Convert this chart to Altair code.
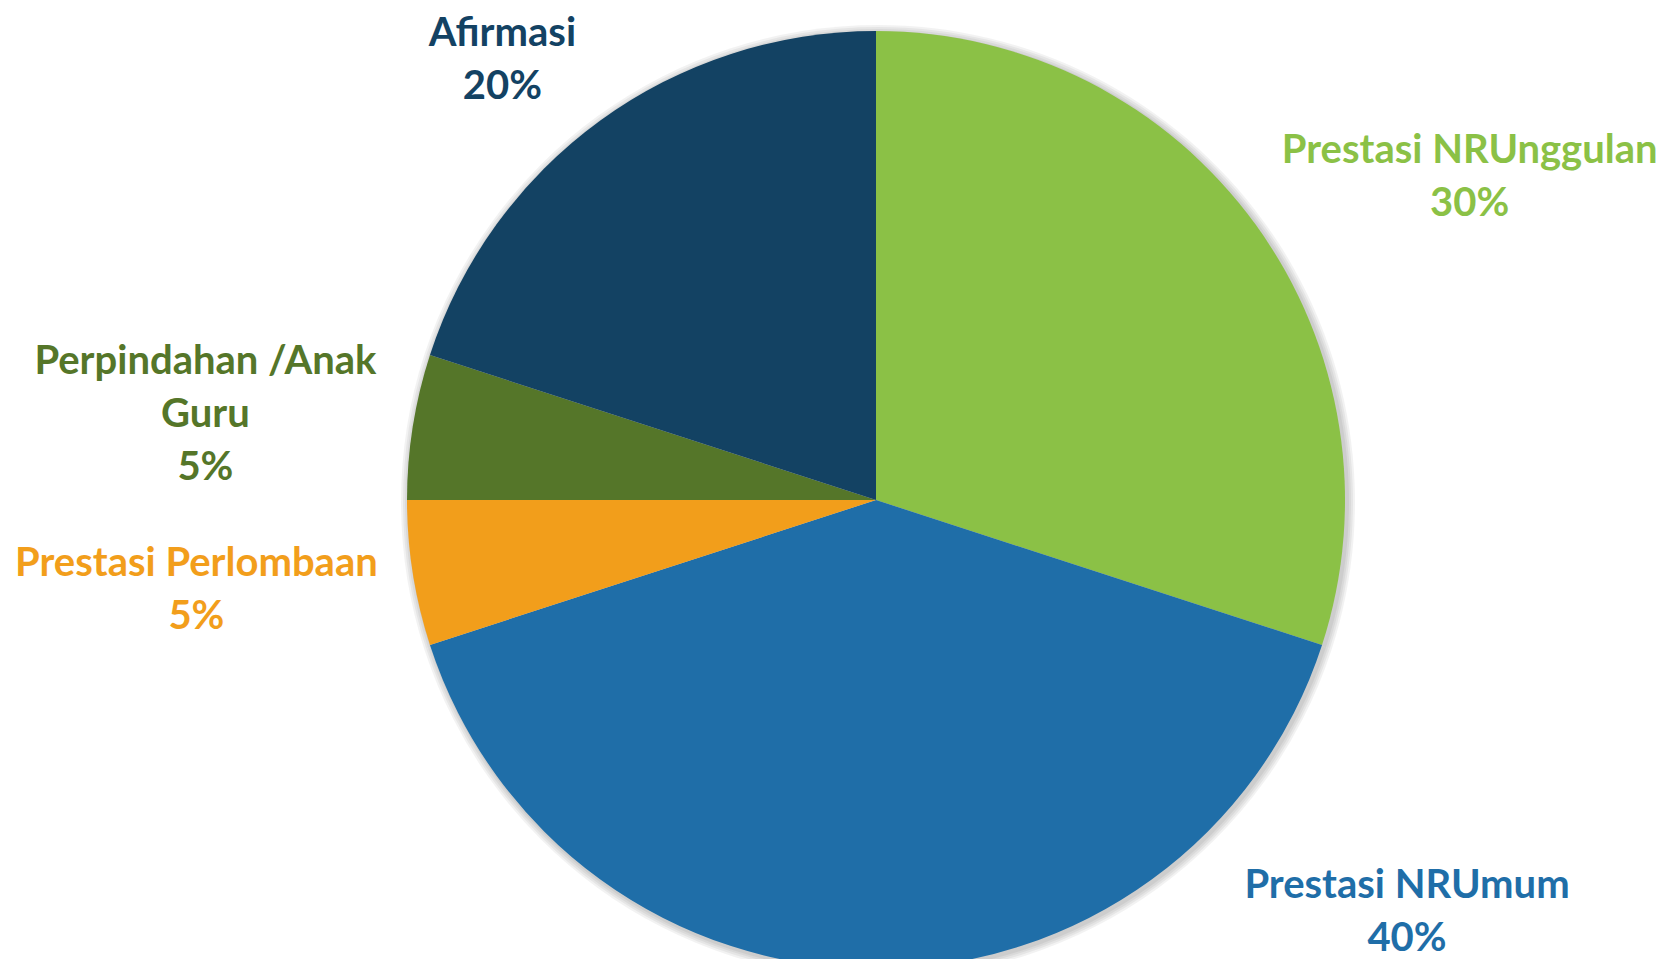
import math
import altair as alt
import pandas as pd

categories = ["Prestasi NRUnggulan", "Prestasi NRUmum", "Prestasi Perlombaan",
              "Perpindahan /Anak Guru", "Afirmasi"]
values = [30, 40, 5, 5, 20]
label_texts = ["Prestasi NRUnggulan\n30%", "Prestasi NRUmum\n40%",
               "Prestasi Perlombaan\n5%", "Perpindahan /Anak\nGuru\n5%",
               "Afirmasi\n20%"]
colors = ["#8BC146", "#1F6EA8", "#F29E1B", "#557629", "#134263"]

df = pd.DataFrame({
    "category": categories,
    "value": values,
    "label": label_texts,
    "order": list(range(len(categories))),
})

CX, CY, R = 868, 492, 469
TWO_PI = 2 * math.pi
theta_scale = alt.Scale(domain=[0, 100], range=[0, TWO_PI])
color_scale = alt.Scale(domain=categories, range=colors)

base = alt.Chart(df)

shadows = [
    base.mark_arc(radius=R + k, color="#000000", opacity=0.05)
    .encode(
        theta=alt.Theta("value:Q", stack=True, scale=theta_scale),
        order=alt.Order("order:Q"),
        x=alt.value(CX + 2),
        y=alt.value(CY + 2),
    )
    for k in (2, 4, 6, 8)
]

pie = base.mark_arc(radius=R).encode(
    theta=alt.Theta("value:Q", stack=True, scale=theta_scale),
    color=alt.Color("category:N", scale=color_scale, legend=None),
    order=alt.Order("order:Q"),
    x=alt.value(CX),
    y=alt.value(CY),
)

# nudges of each label from its slice's mid-angle anchor (layout only)
nudges = {
    "Prestasi NRUnggulan": (173, -43),
    "Prestasi NRUmum": (531, -134),
    "Prestasi Perlombaan": (-166, -17),
    "Perpindahan /Anak Guru": (-157, -57),
    "Afirmasi": (-68, -45),
}

label_layers = []
for cat, col in zip(categories, colors):
    ddx, ddy = nudges[cat]
    lyr = (
        base.transform_window(cum="sum(value)", sort=[alt.SortField("order")])
        .transform_calculate(mid="datum.cum - datum.value / 2",
                             lines="split(datum.label, '\\n')")
        .transform_filter(alt.datum.category == cat)
        .mark_text(radius=520, dx=ddx, dy=ddy, font="Lato", fontWeight="bold",
                   fontSize=40, lineHeight=53, align="center", baseline="middle",
                   color=col)
        .encode(
            theta=alt.Theta("mid:Q", scale=theta_scale),
            text=alt.Text("lines:N"),
            x=alt.value(CX),
            y=alt.value(CY),
        )
    )
    label_layers.append(lyr)

chart = alt.layer(*shadows, pie, *label_layers).properties(
    width=1649, height=951, padding=0, autosize="none",
    background="white",
).configure_view(stroke=None)

chart.save("out.html", embed_options={"renderer": "svg", "actions": False})
